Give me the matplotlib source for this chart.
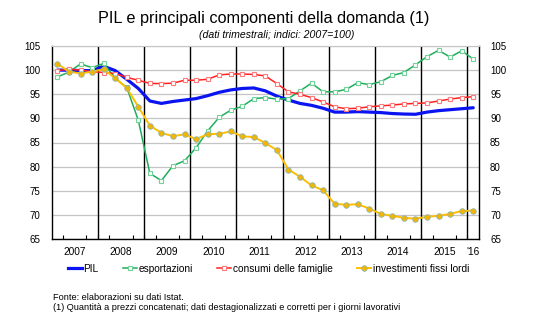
import matplotlib
matplotlib.use("Agg")
import matplotlib.pyplot as plt
from matplotlib.lines import Line2D

plt.rcParams['font.family'] = ['Liberation Sans', 'DejaVu Sans']

# dati trimestrali 2007T1 - 2016T1, indici 2007=100
pil = [100.0, 100.0, 99.9, 99.9, 100.8, 99.9, 98.1, 96.2, 93.6, 93.1, 93.5, 93.8,
       94.1, 94.7, 95.4, 95.9, 96.2, 96.3, 95.7, 94.6, 93.8, 93.1, 92.7, 92.1,
       91.3, 91.3, 91.4, 91.3, 91.2, 91.0, 90.9, 90.85, 91.3, 91.6, 91.8, 92.0, 92.2]
esportazioni = [98.6, 99.6, 101.3, 100.5, 101.4, 98.3, 96.4, 89.6, 78.6, 77.1, 80.2, 81.2,
                83.9, 87.4, 90.2, 91.7, 92.5, 94.1, 94.3, 94.0, 94.1, 95.7, 97.3, 95.5,
                95.5, 96.0, 97.4, 97.0, 97.6, 98.9, 99.5, 101.1, 102.8, 104.1, 102.7, 104.0, 102.3]
consumi = [99.9, 100.2, 100.0, 99.7, 99.5, 99.3, 98.5, 97.9, 97.25, 97.2, 97.3, 97.9,
           97.9, 98.1, 99.0, 99.2, 99.2, 99.1, 98.8, 97.2, 95.5, 95.0, 94.3, 93.4,
           92.4, 92.0, 92.1, 92.4, 92.6, 92.75, 93.0, 93.1, 93.2, 93.6, 94.0, 94.3, 94.5]
investimenti = [101.3, 99.7, 99.3, 99.7, 100.2, 98.3, 96.3, 92.4, 88.5, 87.0, 86.3, 86.7,
                85.7, 86.7, 86.8, 87.3, 86.3, 86.1, 84.9, 83.4, 79.4, 77.9, 76.1, 75.1,
                72.3, 72.1, 72.2, 71.3, 70.2, 69.8, 69.4, 69.2, 69.6, 69.8, 70.2, 70.8, 70.9]
anni = ['2007', '2008', '2009', '2010', '2011', '2012', '2013', '2014', '2015', "'16"]

n = len(pil)
x = [i + 0.5 for i in range(n)]

c_pil = '#0a14f0'
c_exp = '#1fae5a'
c_con = '#ff2222'
c_inv = '#ffbf00'

fig = plt.figure(figsize=(5.54, 3.22), dpi=100)
ax = fig.add_axes([51.7 / 554, 1 - 239 / 322, (479 - 51.7) / 554, (239 - 46) / 322])

# griglia orizzontale e separatori annuali
for v in range(65, 106, 5):
    ax.axhline(v, color='#c4c4c4', lw=0.9, zorder=0)
for k in range(4, n, 4):
    ax.axvline(k, color='black', lw=1.0, zorder=1)

ax.plot(x, pil, color=c_pil, lw=2.3, zorder=3, solid_capstyle='round')
ax.plot(x, esportazioni, color=c_exp, lw=1.1, marker='s', ms=3.2, mfc='white',
        mec='#6fd39a', mew=0.8, zorder=4)
ax.plot(x, consumi, color=c_con, lw=1.1, marker='s', ms=3.2, mfc='white',
        mec='#ff7a7a', mew=0.8, zorder=4)
ax.plot(x, investimenti, color=c_inv, lw=1.4, marker='o', ms=4.0, mfc='#f2b600',
        mec='#8fb4b4', mew=0.6, zorder=5)

ax.set_xlim(0, n)
ax.set_ylim(65, 105)
ax.set_yticks(range(65, 106, 5))
ax.tick_params(axis='y', length=0, labelsize=7, pad=8, labelright=True, right=False)

# etichette degli anni al centro di ogni anno, tacche trimestrali in basso
centers = [min(k + 2, (k + n) / 2) for k in range(0, n, 4)]
ax.set_xticks(centers)
ax.set_xticklabels(anni, fontsize=7.3)
ax.tick_params(axis='x', length=0, pad=6)
ax.set_xticks(range(1, n), minor=True)
ax.tick_params(axis='x', which='minor', direction='in', length=3, width=0.8, color='black')

for s in ['left', 'right', 'bottom']:
    ax.spines[s].set_color('black')
    ax.spines[s].set_linewidth(1.0)
ax.spines['top'].set_color('#c4c4c4')

fig.text(264 / 554, 1 - 18 / 322, 'PIL e principali componenti della domanda (1)',
         ha='center', va='center', fontsize=11.7)
fig.text(277 / 554, 1 - 35 / 322, '(dati trimestrali; indici: 2007=100)',
         ha='center', va='center', fontsize=7.6, style='italic')

handles = [
    Line2D([], [], color=c_pil, lw=2.3),
    Line2D([], [], color=c_exp, lw=1.1, marker='s', ms=3.2, mfc='white', mec='#6fd39a', mew=0.8),
    Line2D([], [], color=c_con, lw=1.1, marker='s', ms=3.2, mfc='white', mec='#ff7a7a', mew=0.8),
    Line2D([], [], color=c_inv, lw=1.4, marker='o', ms=4.0, mfc='#f2b600', mec='#8fb4b4', mew=0.6),
]
labels = ['PIL', 'esportazioni', 'consumi delle famiglie', 'investimenti fissi lordi']
fig.legend(handles, labels, loc='center', bbox_to_anchor=(268.5 / 554, 1 - 269 / 322),
           ncol=4, frameon=False, fontsize=7.3, handlelength=1.4, handletextpad=0.15,
           columnspacing=2.4, borderpad=0)

fig.text(53 / 554, 1 - 297 / 322, 'Fonte: elaborazioni su dati Istat.', fontsize=6.6, va='center')
fig.text(53 / 554, 1 - 308 / 322,
         '(1) Quantità a prezzi concatenati; dati destagionalizzati e corretti per i giorni lavorativi',
         fontsize=6.6, va='center')

fig.savefig('out.png', dpi=100)
